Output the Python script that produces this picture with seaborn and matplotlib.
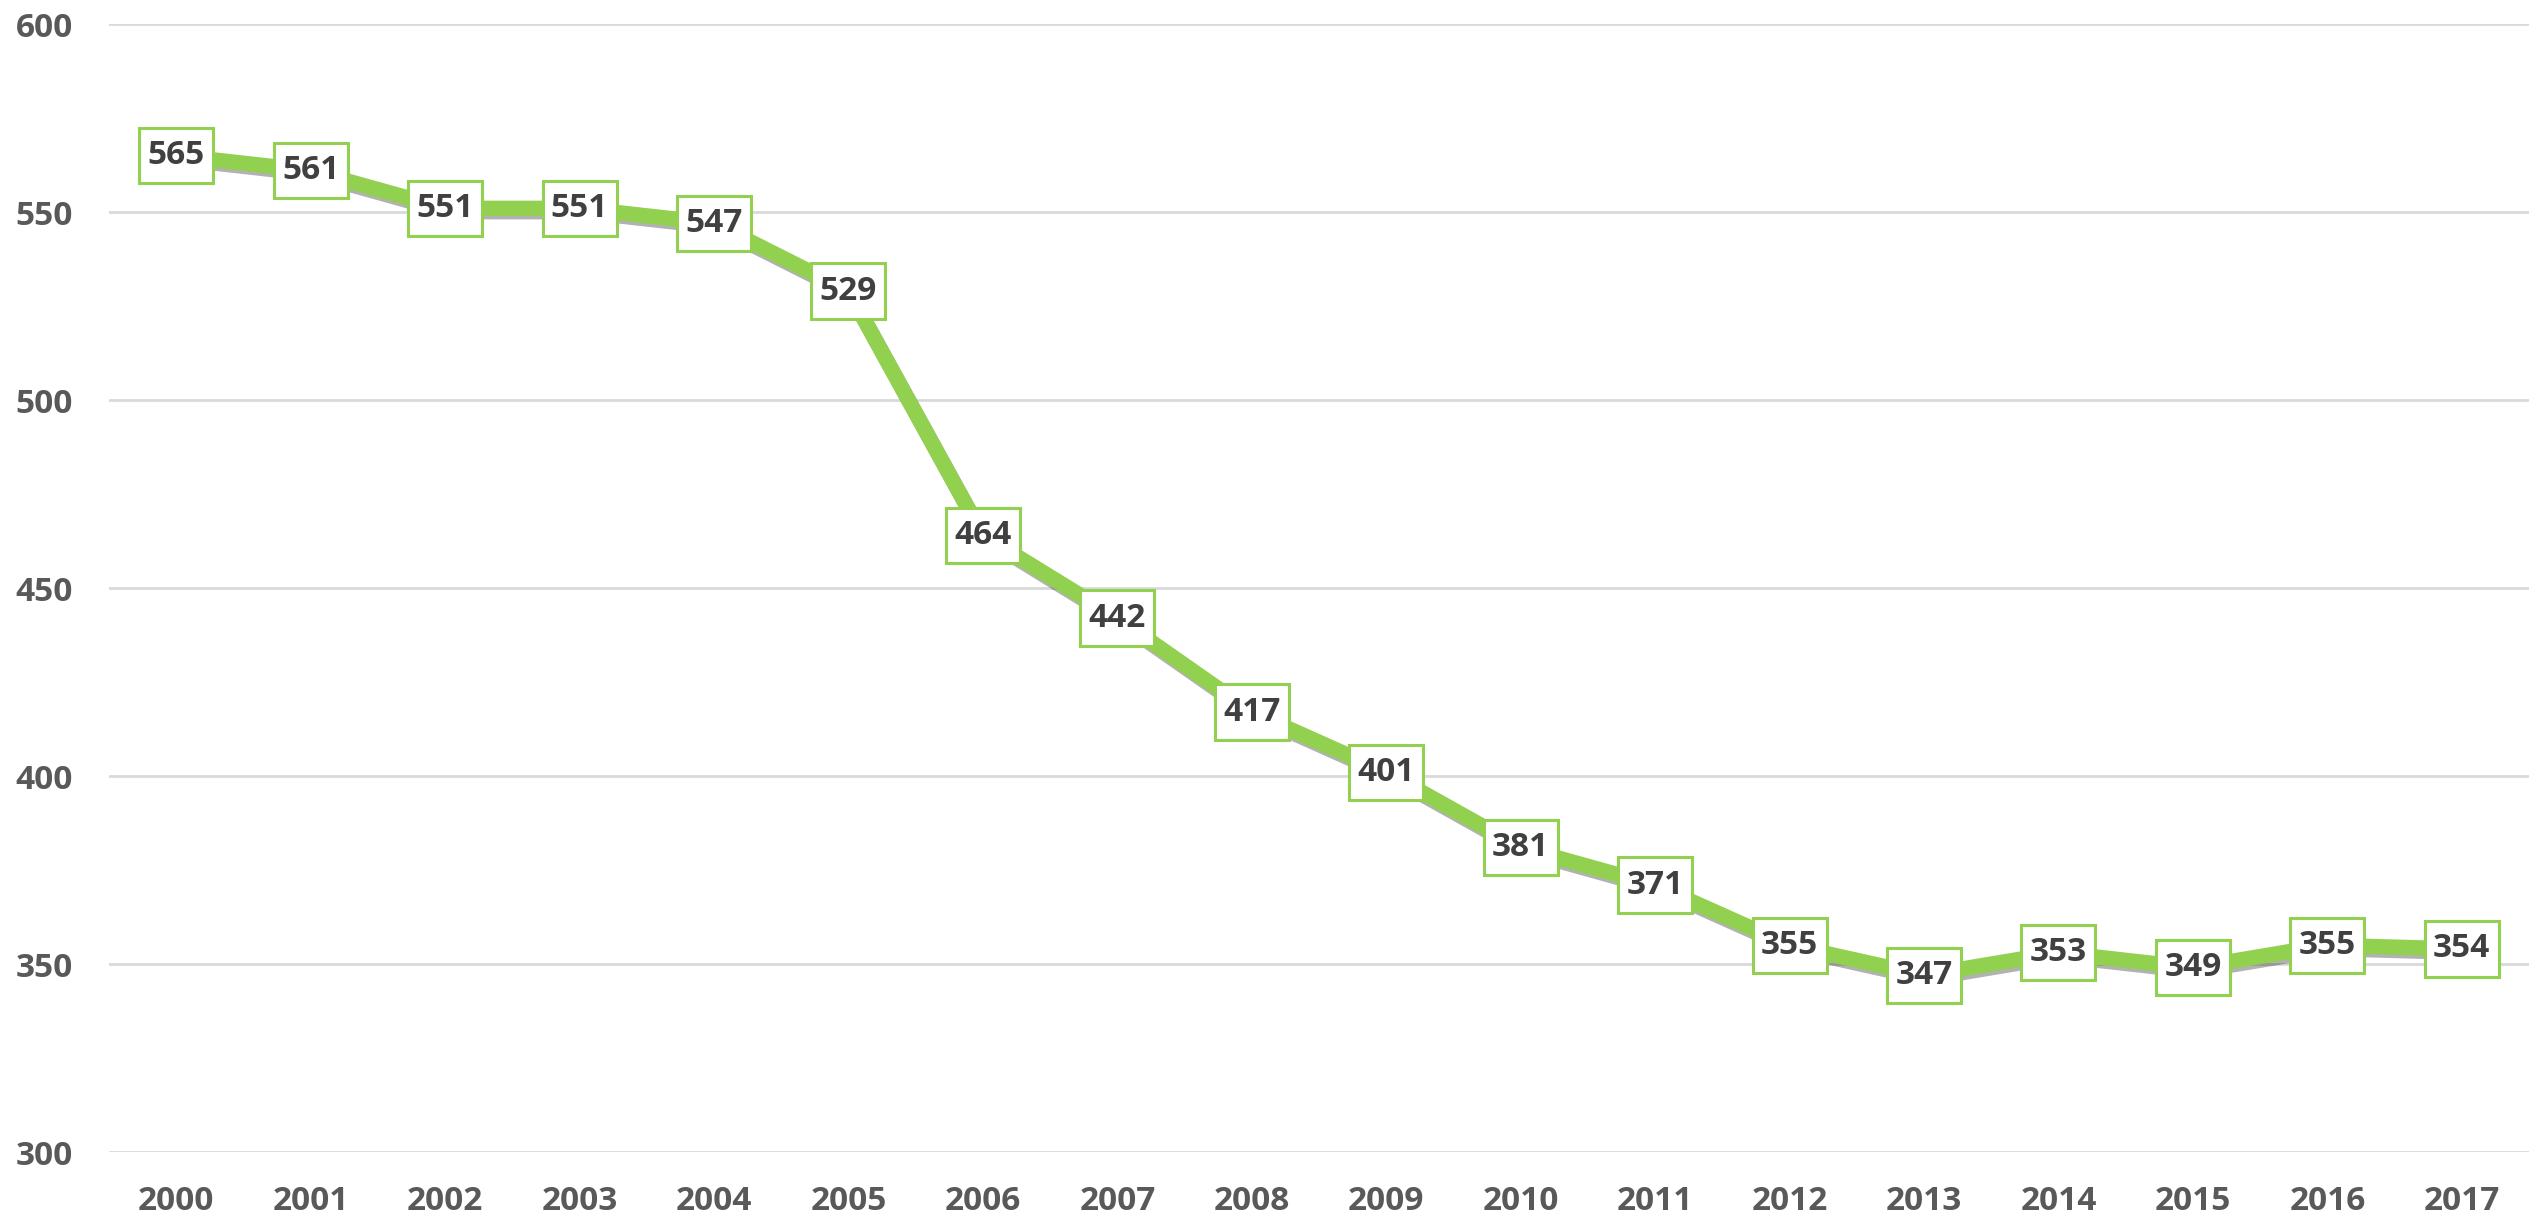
import matplotlib
matplotlib.use("Agg")
import matplotlib.pyplot as plt
import matplotlib.patheffects as pe
from matplotlib.path import Path
import seaborn as sns
import pandas as pd

years = ["2000", "2001", "2002", "2003", "2004", "2005", "2006", "2007", "2008",
         "2009", "2010", "2011", "2012", "2013", "2014", "2015", "2016", "2017"]
values = [565, 561, 551, 551, 547, 529, 464, 442, 417, 401, 381, 371, 355, 347,
          353, 349, 355, 354]
y_ticks = [300, 350, 400, 450, 500, 550, 600]

sns.set_theme(style="white")
plt.rcParams["font.family"] = ["Open Sans", "DejaVu Sans"]

df = pd.DataFrame({"pos": list(range(len(years))), "value": values})

fig = plt.figure(figsize=(25.29, 12.21), dpi=100)
ax = fig.add_axes([0.0431, 0.0565, 0.9569, 0.9238])

green = "#92D050"
sns.lineplot(data=df, x="pos", y="value", ax=ax, color=green, linewidth=11,
             solid_capstyle="butt", solid_joinstyle="round", zorder=3,
             path_effects=[pe.SimpleLineShadow(offset=(1.5, -2.5), shadow_color="black", alpha=0.3),
                           pe.Normal()])


def label_box(x0, y0, width, height, mutation_size):
    # fixed-size label box centred on the text
    cx = x0 + width / 2
    cy = y0 + height / 2
    hw = max(width / 2 + 0.12 * mutation_size, 1.11 * mutation_size)
    hh = 0.83 * mutation_size
    verts = [(cx - hw, cy - hh), (cx + hw, cy - hh), (cx + hw, cy + hh),
             (cx - hw, cy + hh), (cx - hw, cy - hh)]
    return Path(verts, closed=True)


for i, v in enumerate(values):
    ax.text(i, v, str(v), ha="center", va="center", fontsize=24, fontweight="bold",
            color="#404040", zorder=5,
            bbox=dict(boxstyle=label_box, facecolor="white", edgecolor=green, linewidth=2.2))

ax.set_xlim(-0.5, len(years) - 0.5)
ax.set_ylim(300, 600)
ax.set_yticks(y_ticks)
ax.set_xticks(range(len(years)))
ax.set_xticklabels(years)
ax.yaxis.grid(True, color="#D9D9D9", linewidth=2)
ax.xaxis.grid(False)
ax.set_axisbelow(True)
for s in ax.spines.values():
    s.set_visible(False)
ax.tick_params(axis="y", length=0, pad=26, labelsize=24, labelcolor="#595959")
ax.tick_params(axis="x", length=0, pad=24, labelsize=24, labelcolor="#595959")
for lab in ax.get_xticklabels() + ax.get_yticklabels():
    lab.set_fontweight("bold")
ax.set_xlabel("")
ax.set_ylabel("")

fig.savefig("out.png", dpi=100)
